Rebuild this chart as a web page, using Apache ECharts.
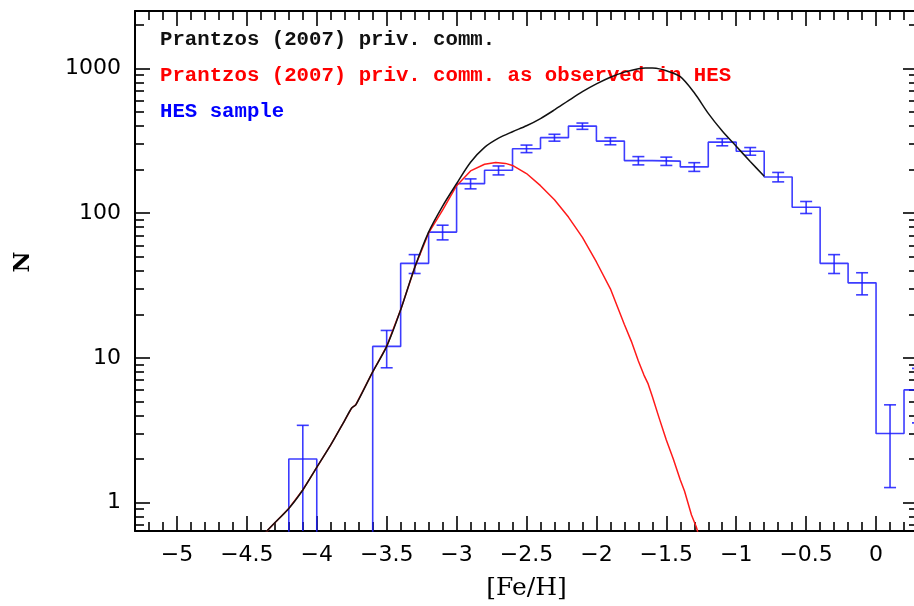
<!DOCTYPE html>
<html>
<head>
<meta charset="utf-8">
<script src="https://cdn.jsdelivr.net/npm/echarts@6/dist/echarts.min.js"></script>
<style>
html,body{margin:0;padding:0;background:#fff;}
#chart{width:914px;height:606px;}
</style>
</head>
<body>
<div id="chart"></div>
<script>
// ---- Data ----
const seriesNames = ['Prantzos (2007) priv. comm.', 'Prantzos (2007) priv. comm. as observed in HES', 'HES sample'];
// HES sample histogram: bin centres ([Fe/H]) and counts, bin width 0.2
const binCenters = [-4.1, -3.9, -3.7, -3.5, -3.3, -3.1, -2.9, -2.7, -2.5, -2.3, -2.1, -1.9, -1.7, -1.5, -1.3, -1.1, -0.9, -0.7, -0.5, -0.3, -0.1, 0.1, 0.3];
const binCounts  = [2, 0, 0, 12, 45, 74, 160, 198, 279, 333, 400, 315, 231, 229, 209, 310, 268, 178, 110, 45, 33, 3, 6];
const binWidth = 0.2;
// Prantzos (2007) model
const modelFeH = [-4.4, -4.35, -4.2, -4.1, -4.0, -3.9, -3.8, -3.75, -3.72, -3.6, -3.5, -3.4, -3.3, -3.2, -3.1, -3.0, -2.9, -2.8, -2.7, -2.6, -2.5, -2.4, -2.3, -2.2, -2.1, -2.0, -1.9, -1.8, -1.7, -1.65, -1.6, -1.55, -1.5, -1.4, -1.3, -1.2, -1.1, -1.0, -0.9, -0.8];
const modelN   = [0.55, 0.645, 0.91, 1.22, 1.75, 2.5, 3.7, 4.5, 4.75, 8.0, 12, 21.5, 42, 74, 112, 160, 225, 285, 330, 366, 402, 451, 518, 600, 692, 783, 871, 945, 998, 1010, 1008, 995, 965, 880, 680, 490, 370, 290, 228, 180];
// Prantzos (2007) model as observed in HES
const obsFeH = [-4.4, -4.35, -4.2, -4.1, -4.0, -3.9, -3.8, -3.75, -3.72, -3.6, -3.5, -3.4, -3.3, -3.2, -3.1, -3.0, -2.9, -2.8, -2.72, -2.65, -2.6, -2.5, -2.4, -2.3, -2.2, -2.1, -2.0, -1.9, -1.8, -1.75, -1.7, -1.66, -1.63, -1.6, -1.55, -1.5, -1.45, -1.4, -1.37, -1.32, -1.286, -1.27];
const obsN   = [0.55, 0.645, 0.91, 1.22, 1.75, 2.5, 3.7, 4.5, 4.75, 8.0, 12, 21.5, 42, 73, 105, 155, 196, 218, 224, 221, 214, 188, 155, 124, 94, 68, 46, 30, 17, 13, 9.5, 7.6, 6.6, 5.4, 3.8, 2.7, 2.0, 1.43, 1.2, 0.82, 0.68, 0.6];
// Axis ticks
const xMajorTicks = [-5, -4.5, -4, -3.5, -3, -2.5, -2, -1.5, -1, -0.5, 0];
const xMinorTicks = [-5.2, -5.1, -4.9, -4.8, -4.7, -4.6, -4.4, -4.3, -4.2, -4.1, -3.9, -3.8, -3.7, -3.6, -3.4, -3.3, -3.2, -3.1, -2.9, -2.8, -2.7, -2.6, -2.4, -2.3, -2.2, -2.1, -1.9, -1.8, -1.7, -1.6, -1.4, -1.3, -1.2, -1.1, -0.9, -0.8, -0.7, -0.6, -0.4, -0.3, -0.2, -0.1, 0.1, 0.2];
const yMajorTicks = [1, 10, 100, 1000];
const yMinorTicks = [0.7, 0.8, 0.9, 2, 3, 4, 5, 6, 7, 8, 9, 20, 30, 40, 50, 60, 70, 80, 90, 200, 300, 400, 500, 600, 700, 800, 900, 2000];

// ---- Build ----
const X_MIN = -5.3, X_MAX = 0.3, Y_MIN = 0.635, Y_MAX = 2500, FLOOR = 0.1;
const BLUE = '#1a1aff', RED = '#ff1a1a', BLACK = '#111111';

const stepData = [];
binCenters.forEach((c, i) => {
  const v = binCounts[i] > 0 ? binCounts[i] : FLOOR;
  if (i === 0) stepData.push([c - binWidth / 2, FLOOR]);
  stepData.push([c - binWidth / 2, v]);
  stepData.push([c + binWidth / 2, v]);
});
stepData.push([binCenters[binCenters.length - 1] + binWidth / 2, FLOOR]);

const errData = [];
binCenters.forEach((c, i) => {
  const n = binCounts[i];
  if (n > 0) errData.push([c, n - Math.sqrt(n), n + Math.sqrt(n)]);
});

const fmtMinus = v => String(v).replace('-', '\u2212');
const fmtPlain = v => String(Math.round(v));
const tickFont = { fontFamily: 'DejaVu Sans', fontSize: 22, color: '#000' };
const axisLineStyle = { color: '#000', width: 2 };

function xAxisDef(position, major, showLabel, showLine) {
  return {
    type: 'value', position: position, min: X_MIN, max: X_MAX,
    axisLine: { show: showLine, onZero: false, lineStyle: axisLineStyle },
    axisTick: { show: true, inside: true, length: major ? 15 : 9, customValues: major ? xMajorTicks : xMinorTicks, lineStyle: { color: '#000', width: 1.6 } },
    axisLabel: { show: showLabel, customValues: xMajorTicks, formatter: fmtMinus, margin: 13, ...tickFont },
    splitLine: { show: false },
    name: (showLabel ? '[Fe/H]' : ''), nameLocation: 'middle', nameGap: 45,
    nameTextStyle: { fontFamily: 'DejaVu Serif', fontSize: 25, color: '#000' }
  };
}
function yAxisDef(position, major, showLabel, showLine) {
  return {
    type: 'log', logBase: 10, position: position, min: Y_MIN, max: Y_MAX,
    axisLine: { show: showLine, onZero: false, lineStyle: axisLineStyle },
    axisTick: { show: true, inside: true, length: major ? 15 : 9, customValues: major ? yMajorTicks : yMinorTicks, lineStyle: { color: '#000', width: 1.6 } },
    axisLabel: { show: showLabel, customValues: yMajorTicks, formatter: fmtPlain, margin: 14, ...tickFont },
    splitLine: { show: false }, minorTick: { show: false }, minorSplitLine: { show: false },
    name: (showLabel ? 'N' : ''), nameLocation: 'middle', nameGap: 100, nameRotate: 90,
    nameTextStyle: { fontFamily: 'DejaVu Serif', fontWeight: 'bold', fontSize: 23, color: '#000', padding: [0, 0, 0, 18] }
  };
}

const option = {
  animation: false,
  backgroundColor: '#fff',
  grid: { left: 135, right: -4, top: 11, bottom: 75, containLabel: false, outerBoundsMode: 'none' },
  legend: {
    orient: 'vertical', left: 155, top: 22, padding: 0, itemGap: 0,
    icon: 'none', itemWidth: 0, itemHeight: 14,
    textStyle: { fontFamily: 'Liberation Mono', fontWeight: 'bold', fontSize: 20.7, lineHeight: 36 },
    data: [
      { name: seriesNames[0], textStyle: { color: BLACK } },
      { name: seriesNames[1], textStyle: { color: '#ff0000' } },
      { name: seriesNames[2], textStyle: { color: '#0000ff' } }
    ]
  },
  xAxis: [
    xAxisDef('bottom', true, true, true),
    xAxisDef('top', true, false, true),
    xAxisDef('bottom', false, false, false),
    xAxisDef('top', false, false, false)
  ],
  yAxis: [
    yAxisDef('left', true, true, true),
    yAxisDef('right', true, false, true),
    yAxisDef('left', false, false, false),
    yAxisDef('right', false, false, false)
  ],
  series: [
    {
      name: seriesNames[2], type: 'line', data: stepData, symbol: 'none', clip: true,
      lineStyle: { color: BLUE, width: 1.6, opacity: 0.85 }, itemStyle: { color: '#0000ff' }, z: 2
    },
    {
      name: seriesNames[2], type: 'custom', data: errData, clip: true, z: 2,
      itemStyle: { color: '#0000ff' },
      renderItem: function (params, api) {
        const x = api.value(0), lo = api.value(1), hi = api.value(2);
        const pt = api.coord([x, hi]), pb = api.coord([x, lo]);
        const w = 6;
        const st = { stroke: BLUE, lineWidth: 1.6, opacity: 0.85 };
        return { type: 'group', children: [
          { type: 'line', shape: { x1: pt[0], y1: pt[1], x2: pb[0], y2: pb[1] }, style: st },
          { type: 'line', shape: { x1: pt[0] - w, y1: pt[1], x2: pt[0] + w, y2: pt[1] }, style: st },
          { type: 'line', shape: { x1: pb[0] - w, y1: pb[1], x2: pb[0] + w, y2: pb[1] }, style: st }
        ]};
      }
    },
    {
      name: seriesNames[1], type: 'line', data: obsFeH.map((x, i) => [x, obsN[i]]), symbol: 'none', clip: true,
      lineStyle: { color: RED, width: 1.5 }, itemStyle: { color: '#ff0000' }, z: 3
    },
    {
      name: seriesNames[0], type: 'line', data: modelFeH.map((x, i) => [x, modelN[i]]), symbol: 'none', clip: true, smooth: 0.3,
      lineStyle: { color: BLACK, width: 1.5 }, itemStyle: { color: BLACK }, z: 4
    }
  ]
};
const chart = echarts.init(document.getElementById('chart'), null, { renderer: 'canvas' });
chart.setOption(option);
</script>
</body>
</html>
